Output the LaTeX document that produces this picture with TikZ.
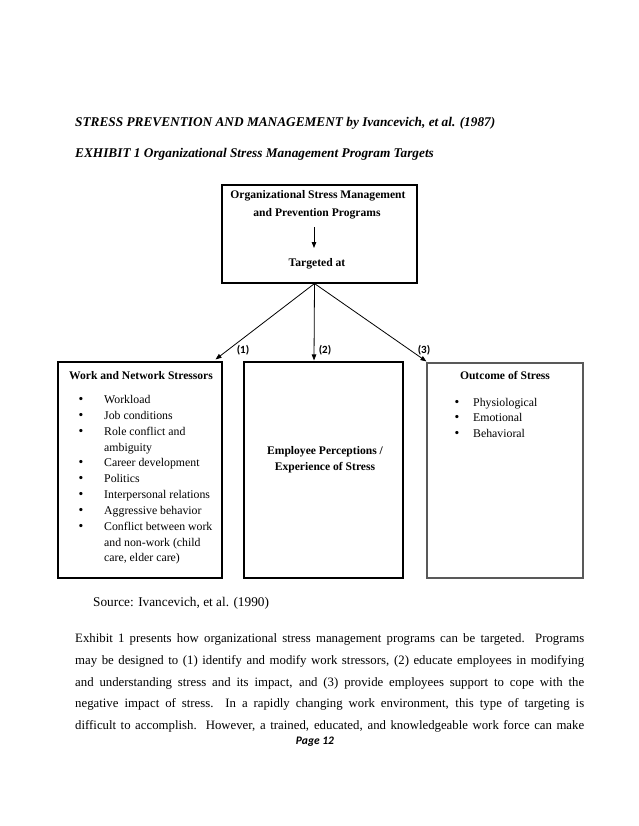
\documentclass[tikz,border=0pt]{standalone}
\usepackage{fontspec}
\setmainfont{Liberation Serif}
\newfontfamily\calib{Carlito}
\usetikzlibrary{arrows.meta}
\begin{document}
\begin{tikzpicture}[x=1pt,y=-1pt,
  boxst/.style={draw, line width=1.1pt, inner sep=0pt},
  arr/.style={-{Triangle[length=6pt,width=4.5pt]}, line width=0.8pt},
  ttl/.style={font=\fontsize{13.3}{16}\selectfont\bfseries\itshape, inner sep=0pt, anchor=base west},
  bt/.style={font=\fontsize{11.6}{16}\selectfont\bfseries, inner sep=0pt, anchor=base},
  it/.style={font=\fontsize{11.8}{14}\selectfont, inner sep=0pt, anchor=base west},
  bul/.style={font=\fontsize{13.5}{14}\selectfont, inner sep=0pt, anchor=base},
  lbl/.style={font=\calib\fontsize{11}{13}\selectfont\bfseries, inner sep=0pt},
  para/.style={font=\fontsize{12.8}{15}\selectfont, inner sep=0pt, anchor=base west}]
\path[use as bounding box, fill=white] (0,0) rectangle (638,826);

% titles
\node[ttl] (h1) at (75,126.5) {STRESS PREVENTION AND MANAGEMENT by Ivancevich, et al. (1987)};
\node[ttl] (h2) at (75,157.5) {EXHIBIT 1 Organizational Stress Management Program Targets};

% top box
\node[boxst, minimum width=195pt, minimum height=98pt] (top) at (319.5,234) {};
\node[bt] (t1) at (318,199) {Organizational Stress Management};
\node[bt] (t2) at (317,216) {and Prevention Programs};
\node[bt] (t3) at (317,266) {Targeted at};
\coordinate (ta) at (314,227);
\coordinate (tb) at (314,248);
\draw[arr] (ta) -- (tb);

% lower boxes
\node[boxst, minimum width=164pt, minimum height=216pt] (lbox) at (140,470) {};
\node[boxst, minimum width=159pt, minimum height=216pt] (mbox) at (323.5,470) {};
\node[boxst, draw=black!65, minimum width=156pt, minimum height=215pt] (rbox) at (505,470.5) {};

% connectors
\coordinate (o) at ([xshift=-5pt]top.south);
\draw[arr] (o) -- ([xshift=-7pt,yshift=2pt]lbox.north east);
\draw[arr] (o) -- ([xshift=-9.5pt,yshift=1pt]mbox.north);
\draw[arr] (o) -- ([yshift=1pt]rbox.north west);
\node[lbl] (l1) at (243,350) {(1)};
\node[lbl] (l2) at (325,350) {(2)};
\node[lbl] (l3) at (424,350) {(3)};

% left box contents
\node[bt] (lt) at (141,379) {Work and Network Stressors};
\foreach \y/\n in {403/a,419/b,435/c,466/d,482/e,498/f,514/g,530/h}
  \node[bul] (b\n) at (81,\y) {•};
\node[it] (i1) at (104,403) {Workload};
\node[it] (i2) at (104,419) {Job conditions};
\node[it] (i3) at (104,435) {Role conflict and};
\node[it] (i3b) at (104,451) {ambiguity};
\node[it] (i4) at (104,466) {Career development};
\node[it] (i5) at (104,482) {Politics};
\node[it] (i6) at (104,498) {Interpersonal relations};
\node[it] (i7) at (104,514) {Aggressive behavior};
\node[it] (i8) at (104,530) {Conflict between work};
\node[it] (i8b) at (104,546) {and non-work (child};
\node[it] (i8c) at (104,561.5) {care, elder care)};

% middle box contents
\node[bt] (m1) at (325,454) {Employee Perceptions /};
\node[bt] (m2) at (325,470) {Experience of Stress};

% right box contents
\node[bt] (rt) at (505,379) {Outcome of Stress};
\foreach \y/\n in {406/a,421/b,437/c}
  \node[bul] (rb\n) at (457,\y) {•};
\node[it] (r1) at (473,406) {Physiological};
\node[it] (r2) at (473,421) {Emotional};
\node[it] (r3) at (473,437) {Behavioral};

% source
\node[it, font=\fontsize{13.3}{16}\selectfont] (src) at (93,606.5) {Source: Ivancevich, et al. (1990)};

% paragraph
\node[para] (p1) at (75,642.5) {\hbox to 509pt{Exhibit 1 presents how organizational stress management programs can be targeted.\ \ Programs}};
\node[para] (p2) at (75,664) {\hbox to 509pt{may be designed to (1) identify and modify work stressors, (2) educate employees in modifying}};
\node[para] (p3) at (75,686) {\hbox to 509pt{and understanding stress and its impact, and (3) provide employees support to cope with the}};
\node[para] (p4) at (75,707.5) {\hbox to 509pt{negative impact of stress.\ \ In a rapidly changing work environment, this type of targeting is}};
\node[para] (p5) at (75,729) {\hbox to 509pt{difficult to accomplish.\ \ However, a trained, educated, and knowledgeable work force can make}};

% page number
\node[font=\calib\fontsize{11.5}{13}\selectfont\bfseries\itshape, inner sep=0pt] (pg) at (315,742) {Page 12};
\end{tikzpicture}
\end{document}
